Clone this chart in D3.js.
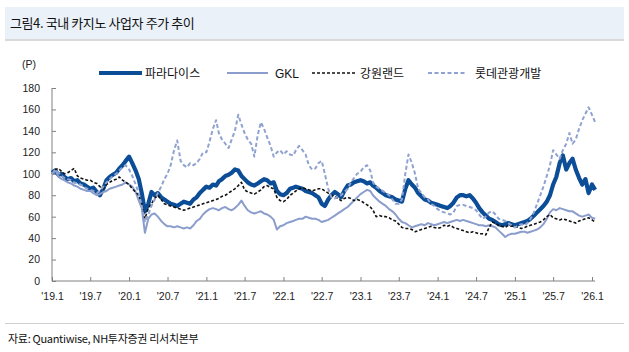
<!DOCTYPE html>
<html>
<head>
<meta charset="utf-8">
<script src="https://cdn.jsdelivr.net/npm/d3@7"></script>
<style>
  body { margin: 0; background: #fff; }
  svg { display: block; }
  text { font-family: "Noto Sans CJK KR", "Noto Sans", sans-serif; }
  .num { font-family: "Liberation Sans", Arial, sans-serif; }
</style>
</head>
<body>
<div id="chart"></div>
<script>
// semi-monthly readings, 2019.1 ~ 2026.1 (index 0 = 1 Jan 2019, 1 = mid Jan, ...)
const paradise = [
  101,103,99,100,97,95,96,93,94,91,90,88,86,87,83,80,86,94,97,99,101,105,108,112,
  116,110,103,95,82,65,72,83,80,82,78,76,74,72,71,70,72,74,73,72,76,78,82,85,
  88,87,90,89,93,95,98,99,101,104,103,98,95,92,90,89,91,93,95,94,91,92,84,81,
  80,82,86,87,88,87,86,84,83,82,80,78,72,70,76,80,83,81,78,84,89,90,92,93,
  94,93,91,92,89,87,84,82,80,79,78,76,75,74,86,94,90,87,82,79,76,75,73,72,
  71,70,69,68,70,73,78,80,80,79,80,77,73,68,64,61,58,57,55,53,52,53,54,53,
  52,53,54,55,56,58,61,64,67,70,74,80,90,97,110,117,104,110,114,104,96,90,95,82,
  90,85
];
const gkl = [
  100,104,97,95,94,92,91,89,88,86,85,84,84,82,80,81,83,84,86,87,88,89,90,92,
  90,88,83,75,68,45,58,62,63,60,56,53,51,51,50,51,50,49,50,49,52,56,58,62,
  65,67,68,67,66,68,69,67,66,68,71,75,70,66,64,63,64,65,63,62,60,57,48,51,
  52,54,55,56,57,58,58,60,59,58,58,57,55,56,57,59,61,63,65,67,69,72,75,78,
  81,83,85,84,80,77,74,72,70,67,65,62,58,55,54,52,50,51,52,53,52,54,53,52,
  53,54,55,54,55,56,57,56,57,56,55,54,53,52,52,51,52,51,50,47,44,41,43,44,
  44,45,46,46,45,46,47,48,50,53,58,64,67,66,68,67,66,65,65,63,61,60,61,62,
  59,58
];
const kangwon = [
  100,104,105,102,100,101,103,105,98,96,95,94,94,92,91,88,86,90,92,94,95,97,94,92,
  90,86,83,80,72,58,68,72,77,80,76,72,71,70,69,68,67,66,67,68,69,70,71,72,
  73,74,75,76,77,79,80,82,84,86,89,92,85,83,82,81,83,85,88,89,87,86,78,75,
  74,76,80,82,84,86,87,86,85,84,85,86,86,84,82,80,79,77,75,77,78,77,75,76,
  75,73,71,69,66,60,61,60,60,59,57,56,53,50,49,49,48,46,47,48,49,50,51,50,
  49,50,52,51,52,50,49,48,47,46,45,46,45,44,44,43,50,55,54,52,51,50,52,51,
  51,50,49,50,51,52,53,54,55,57,60,62,59,58,57,58,57,56,55,54,56,57,58,59,
  57,55
];
const lotte = [
  100,103,101,98,96,95,94,92,91,90,88,86,85,84,82,84,88,92,95,98,100,103,106,108,
  104,98,90,82,70,55,62,70,76,82,88,95,100,108,122,131,112,108,106,110,108,110,114,120,
  120,130,142,150,138,132,128,124,132,140,155,146,138,132,128,116,136,148,142,134,126,116,120,122,
  118,121,118,117,122,126,122,118,108,104,105,110,112,100,86,78,77,79,80,83,86,92,96,100,
  102,106,108,103,92,88,86,84,82,80,76,72,72,76,100,118,110,100,86,82,78,76,72,70,
  67,65,64,63,62,64,70,71,71,70,69,68,66,62,58,60,64,65,62,58,57,56,54,52,
  50,52,53,52,54,58,64,72,80,88,98,108,122,118,114,122,128,138,128,132,142,150,156,162,
  155,148
];
const seriesNames = ["파라다이스", "GKL", "강원랜드", "롯데관광개발"];
const yTicks = [0, 20, 40, 60, 80, 100, 120, 140, 160, 180];
const xTickLabels = ["'19.1","'19.7","'20.1","'20.7","'21.1","'21.7","'22.1","'22.7",
                     "'23.1","'23.7","'24.1","'24.7","'25.1","'25.7","'26.1"];

const width = 629, height = 352;
const styles = [
  { color: "#0b4d96", w: 4.2, dash: null },
  { color: "#8a9dcc", w: 2, dash: null },
  { color: "#111111", w: 1.6, dash: "3,2" },
  { color: "#8fa2d0", w: 2, dash: "4,2.5" }
];

const dateAt = i => new Date(2019, Math.floor(i / 2), i % 2 ? 16 : 1);
const series = [paradise, gkl, kangwon, lotte].map((vals, k) => ({
  name: seriesNames[k],
  style: styles[k],
  values: vals.map((v, i) => ({ date: dateAt(i), v }))
}));
const tickDates = xTickLabels.map((t, i) => new Date(2019, i * 6, 1));

const svg = d3.select("#chart").append("svg")
  .attr("width", width).attr("height", height);

// title bar
svg.append("rect").attr("x", 5).attr("y", 7).attr("width", 619).attr("height", 32).attr("fill", "#eaf1f9");
svg.append("rect").attr("x", 5).attr("y", 39).attr("width", 619).attr("height", 2).attr("fill", "#d9d9d9");
svg.append("text").attr("x", 10).attr("y", 28).attr("font-size", 13).attr("letter-spacing", -0.4)
  .attr("fill", "#111")
  .text("그림4. 국내 카지노 사업자 주가 추이");

const x = d3.scaleTime().domain([tickDates[0], tickDates[tickDates.length - 1]]).range([52, 592]);
const y = d3.scaleLinear().domain([0, 180]).range([281, 88]);

// axes
const gy = svg.append("g").attr("transform", "translate(52,0)")
  .call(d3.axisLeft(y).tickValues(yTicks).tickSize(-4).tickSizeOuter(0).tickPadding(12));
const gx = svg.append("g").attr("transform", "translate(0,281)")
  .call(d3.axisBottom(x).tickValues(tickDates).tickFormat((d, i) => xTickLabels[i])
    .tickSize(-4).tickSizeOuter(0).tickPadding(12));
[gx, gy].forEach(g => {
  g.select(".domain").remove();
  g.selectAll("line").attr("stroke", "#808080");
  g.selectAll("text").attr("class", "num").attr("font-size", 10.5).attr("fill", "#222");
});
const lastDate = series[0].values[series[0].values.length - 1].date;
svg.append("line").attr("x1", 52).attr("x2", 52).attr("y1", y(180)).attr("y2", y(0)).attr("stroke", "#808080");
svg.append("line").attr("x1", 52).attr("x2", x(lastDate)).attr("y1", y(0)).attr("y2", y(0)).attr("stroke", "#808080");

svg.append("text").attr("class", "num").attr("x", 22).attr("y", 68).attr("font-size", 10.5).attr("fill", "#222").text("(P)");

// lines
const line = d3.line().x(d => x(d.date)).y(d => y(d.v));
svg.append("g").selectAll("path").data(series).join("path")
  .attr("fill", "none")
  .attr("stroke", d => d.style.color)
  .attr("stroke-width", d => d.style.w)
  .attr("stroke-dasharray", d => d.style.dash)
  .attr("stroke-linejoin", "round")
  .attr("d", d => line(d.values));

// legend
const legendX = [99, 227, 312, 428], legendLen = [43, 41, 43, 38], legendTx = [145, 275, 360, 475];
const lg = svg.append("g").selectAll("g").data(series).join("g");
lg.append("line")
  .attr("x1", (d, i) => legendX[i]).attr("x2", (d, i) => legendX[i] + legendLen[i])
  .attr("y1", 73).attr("y2", 73)
  .attr("stroke", d => d.style.color)
  .attr("stroke-width", d => d.style.w)
  .attr("stroke-dasharray", d => d.style.dash);
lg.append("text")
  .attr("x", (d, i) => legendTx[i]).attr("y", 77.5)
  .attr("font-size", 12).attr("fill", "#111")
  .attr("class", d => d.name === "GKL" ? "num" : null)
  .text(d => d.name);

// footer
svg.append("rect").attr("x", 5).attr("y", 323).attr("width", 619).attr("height", 1).attr("fill", "#cfcfcf");
svg.append("text").attr("x", 8).attr("y", 343).attr("font-size", 11).attr("letter-spacing", -0.3)
  .attr("fill", "#111")
  .text("자료: Quantiwise, NH투자증권 리서치본부");
</script>
</body>
</html>
